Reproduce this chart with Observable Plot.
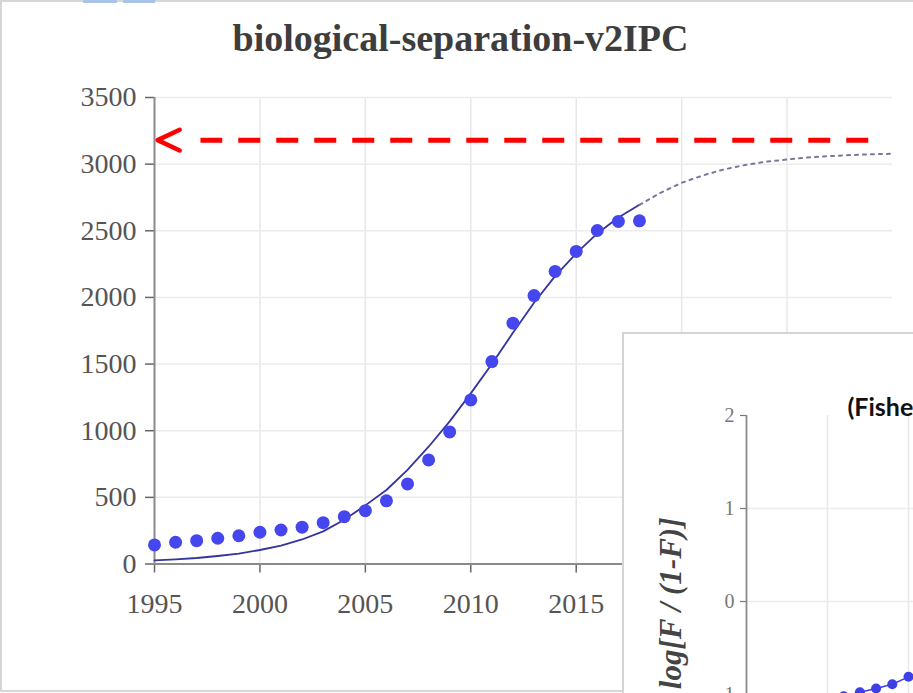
<!DOCTYPE html>
<html>
<head>
<meta charset="utf-8">
<script src="https://cdn.jsdelivr.net/npm/d3@7"></script>
<script src="https://cdn.jsdelivr.net/npm/@observablehq/plot@0.6"></script>
<style>
  body { margin: 0; background: #fff; }
  #wrap { position: relative; width: 913px; height: 693px; overflow: hidden; background: #fff; }
  #frame { position: absolute; left: 0; top: 0; width: 913px; height: 692px; box-sizing: border-box;
           border-top: 2px solid #d6d6d6; border-left: 2px solid #d6d6d6; border-bottom: 2px solid #d6d6d6; pointer-events: none; }
  .tab { position: absolute; top: 0; height: 3px; background: #a9c3e6; }
  #main { position: absolute; left: 0; top: 0; }
  #inset { position: absolute; left: 622px; top: 332px; width: 460px; height: 470px; border: 2px solid #d4d4d4; background: #fff; overflow: hidden; }
  #inset svg { position: absolute; left: -1px; top: -1px; max-width: none !important; }
</style>
</head>
<body>
<div id="wrap">
  <div id="main"></div>
  <div id="frame"></div>
  <div class="tab" style="left:83px;width:34px"></div>
  <div class="tab" style="left:123px;width:32px"></div>
  <div id="inset"></div>
</div>
<script>
// ---- data ----
const title = "biological-separation-v2IPC";
const insetTitle = "(Fisher-Pry transform)";
const insetYLabel = "log[F / (1-F)]";

const obsYears  = [1995,1996,1997,1998,1999,2000,2001,2002,2003,2004,2005,2006,2007,2008,2009,2010,2011,2012,2013,2014,2015,2016,2017,2018];
const obsValues = [143, 163, 175, 193, 212, 238, 255, 276, 310, 355, 400, 474, 601, 781, 991, 1231,1519,1807,2014,2195,2345,2502,2570,2575];

const fitYears  = [1995,1996,1997,1998,1999,2000,2001,2002,2003,2004,2005,2006,2007,2008,2009,2010,2011,2012,2013,2014,2015,2016,2017,2018,2019,2020,2021,2022,2023,2024,2025,2026,2027,2028,2029,2030];
const fitValues = [27,  35,  45,  60,  78,  105, 138, 184, 245, 332, 440, 555, 706, 880, 1070,1280,1500,1735,1960,2160,2330,2480,2600,2695,2785,2860,2915,2960,2993,3018,3035,3050,3060,3068,3074,3078];
const forecastStart = 2018;

const arrowLevel = [3180];
const arrowTip = [1995.15];
const arrowShaft = [1997.18, 2028.85];

const xTicks = [1995, 2000, 2005, 2010, 2015, 2020, 2025];
const yTicks = [0, 500, 1000, 1500, 2000, 2500, 3000, 3500];

const insetYears  = [2001, 2002, 2003, 2004, 2005, 2006];
const insetValues = [-1.02, -0.975, -0.935, -0.89, -0.81, -0.72];
const insetXTicks = [2000, 2005, 2010];
const insetYTicks = [-1, 0, 1, 2];

// ---- tables ----
const obs = obsYears.map((year, i) => ({year, value: obsValues[i]}));
const fit = fitYears.map((year, i) => ({year, value: fitValues[i]}));
const fitSolid = fit.filter(d => d.year <= forecastStart);
const fitDotted = fit.filter(d => d.year >= forecastStart);
const arrow = [{tip: arrowTip[0], x1: arrowShaft[1], x2: arrowShaft[0], y: arrowLevel[0]}];
const ins = insetYears.map((year, i) => ({year, v: insetValues[i]}));

const chevron = {
  draw(ctx, size) {
    const s = Math.sqrt(size / Math.PI);
    ctx.moveTo(s, -s * 0.47);
    ctx.lineTo(0, 0);
    ctx.lineTo(s, s * 0.47);
  }
};

const serif = "'Liberation Serif', 'Times New Roman', serif";
const fmt = d => String(d);

const main = Plot.plot({
  width: 913, height: 693,
  marginLeft: 154, marginRight: 21, marginTop: 97, marginBottom: 129.5,
  style: {background: "transparent", fontFamily: serif, fontSize: "28px", color: "#555", maxWidth: "none"},
  x: {domain: [1995, 2030], axis: null},
  y: {domain: [0, 3500], axis: null},
  marks: [
    Plot.gridX(xTicks.filter(t => t > 1995), {stroke: "#e8e8e8", strokeOpacity: 1, strokeWidth: 1.5}),
    Plot.gridY(yTicks.filter(t => t > 0), {stroke: "#ececec", strokeOpacity: 1, strokeWidth: 1.5}),
    Plot.axisX({ticks: xTicks, tickFormat: fmt, tickSize: 9, tickPadding: 20, label: null,
                stroke: "#666", strokeWidth: 1.5, fill: "#555", fontSize: 28}),
    Plot.axisY({ticks: yTicks, tickFormat: fmt, tickSize: 9, tickPadding: 9, label: null,
                stroke: "#666", strokeWidth: 1.5, fill: "#555", fontSize: 28}),
    Plot.ruleY([0], {stroke: "#8a8a8a", strokeWidth: 2}),
    Plot.ruleX([1995], {stroke: "#8a8a8a", strokeWidth: 2}),
    Plot.line(fitSolid, {x: "year", y: "value", stroke: "#34349c", strokeWidth: 1.8}),
    Plot.line(fitDotted, {x: "year", y: "value", stroke: "#77779a", strokeWidth: 2, strokeDasharray: "3,5"}),
    Plot.dot(obs, {x: "year", y: "value", r: 6.5, fill: "#4646ee"}),
    Plot.link(arrow, {x1: "x1", x2: "x2", y1: "y", y2: "y", stroke: "#ff0000", strokeWidth: 5, strokeDasharray: "22,16"}),
    Plot.dot(arrow, {x: "tip", y: "y", symbol: chevron, r: 22, fill: "none", stroke: "#ff0000", strokeWidth: 4.5,
                     strokeLinecap: "round", strokeLinejoin: "round"}),
    Plot.text([title], {frameAnchor: "top", dx: -63, dy: -47, lineAnchor: "bottom", fontSize: 38,
                        fontWeight: "bold", fill: "#3d3d3d", fontFamily: serif})
  ]
});
document.getElementById("main").appendChild(main);

const inset = Plot.plot({
  width: 450, height: 460,
  marginLeft: 123, marginRight: 3, marginTop: 82, marginBottom: 6,
  style: {background: "transparent", fontFamily: serif, fontSize: "20px", color: "#777", maxWidth: "none"},
  x: {domain: [1995, 2015], axis: null},
  y: {domain: [-2, 2], axis: null},
  marks: [
    Plot.gridX(insetXTicks, {stroke: "#e8e8e8", strokeOpacity: 1, strokeWidth: 1.5}),
    Plot.gridY(insetYTicks.filter(t => t < 2), {stroke: "#ececec", strokeOpacity: 1, strokeWidth: 1.5}),
    Plot.axisY({ticks: insetYTicks, tickFormat: fmt, tickSize: 6, tickPadding: 6, label: null,
                stroke: "#777", strokeWidth: 1.2, fill: "#777", fontSize: 20}),
    Plot.ruleX([1995], {stroke: "#8a8a8a", strokeWidth: 1.8}),
    Plot.line(ins, {x: "year", y: "v", stroke: "#4040dd", strokeWidth: 1.5}),
    Plot.dot(ins, {x: "year", y: "v", r: 5, fill: "#3f3fe6"}),
    Plot.text([insetTitle], {frameAnchor: "top-left", dx: 101, dy: 0, textAnchor: "start", lineAnchor: "bottom",
                             fontFamily: "Lato, 'Open Sans', sans-serif", fontWeight: "bold", fontSize: 25, fill: "#111"}),
    Plot.text([insetYLabel], {frameAnchor: "top-left", dx: -66, dy: 102, rotate: -90, textAnchor: "end", lineAnchor: "bottom",
                              fontFamily: serif, fontWeight: "bold", fontStyle: "italic", fontSize: 31, fill: "#444"})
  ]
});
document.getElementById("inset").appendChild(inset);
</script>
</body>
</html>
